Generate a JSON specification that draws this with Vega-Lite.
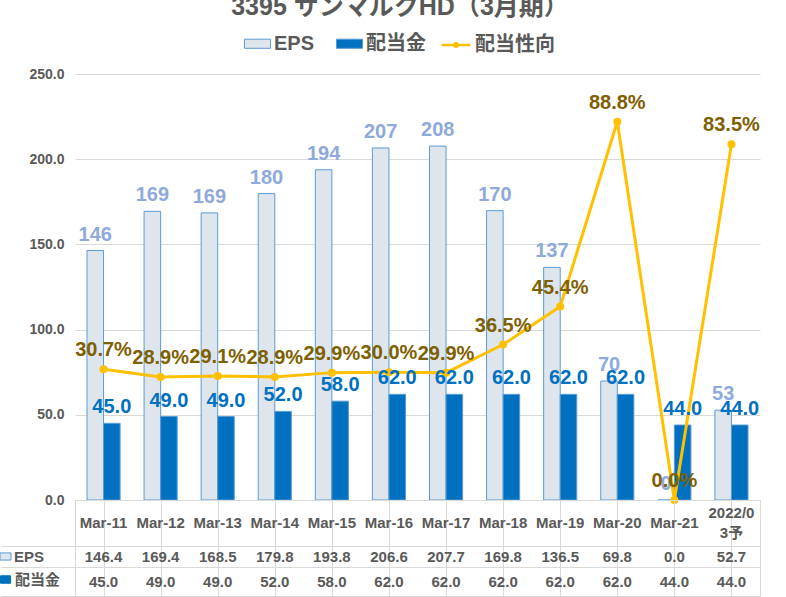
{
  "$schema": "https://vega.github.io/schema/vega-lite/v6.json",
  "padding": {"left": -3, "top": -5, "right": 0, "bottom": 0},
  "title": {
    "text": "3395 サンマルクHD（3月期）",
    "fontSize": 25,
    "fontWeight": "bold",
    "color": "#595959",
    "anchor": "middle",
    "dx": 21,
    "offset": 9
  },
  "datasets": {
    "bars": [
      {"cat": "Mar-11", "series": "EPS", "value": 146.4},
      {"cat": "Mar-11", "series": "配当金", "value": 45.0},
      {"cat": "Mar-12", "series": "EPS", "value": 169.4},
      {"cat": "Mar-12", "series": "配当金", "value": 49.0},
      {"cat": "Mar-13", "series": "EPS", "value": 168.5},
      {"cat": "Mar-13", "series": "配当金", "value": 49.0},
      {"cat": "Mar-14", "series": "EPS", "value": 179.8},
      {"cat": "Mar-14", "series": "配当金", "value": 52.0},
      {"cat": "Mar-15", "series": "EPS", "value": 193.8},
      {"cat": "Mar-15", "series": "配当金", "value": 58.0},
      {"cat": "Mar-16", "series": "EPS", "value": 206.6},
      {"cat": "Mar-16", "series": "配当金", "value": 62.0},
      {"cat": "Mar-17", "series": "EPS", "value": 207.7},
      {"cat": "Mar-17", "series": "配当金", "value": 62.0},
      {"cat": "Mar-18", "series": "EPS", "value": 169.8},
      {"cat": "Mar-18", "series": "配当金", "value": 62.0},
      {"cat": "Mar-19", "series": "EPS", "value": 136.5},
      {"cat": "Mar-19", "series": "配当金", "value": 62.0},
      {"cat": "Mar-20", "series": "EPS", "value": 69.8},
      {"cat": "Mar-20", "series": "配当金", "value": 62.0},
      {"cat": "Mar-21", "series": "EPS", "value": 0.0},
      {"cat": "Mar-21", "series": "配当金", "value": 44.0},
      {"cat": "2022/03予", "series": "EPS", "value": 52.7},
      {"cat": "2022/03予", "series": "配当金", "value": 44.0}
    ],
    "ratio": [
      {"cat": "Mar-11", "ratio": 0.307},
      {"cat": "Mar-12", "ratio": 0.289},
      {"cat": "Mar-13", "ratio": 0.291},
      {"cat": "Mar-14", "ratio": 0.289},
      {"cat": "Mar-15", "ratio": 0.299},
      {"cat": "Mar-16", "ratio": 0.300},
      {"cat": "Mar-17", "ratio": 0.299},
      {"cat": "Mar-18", "ratio": 0.365},
      {"cat": "Mar-19", "ratio": 0.454},
      {"cat": "Mar-20", "ratio": 0.888},
      {"cat": "Mar-21", "ratio": 0.0},
      {"cat": "2022/03予", "ratio": 0.835}
    ]
  },
  "spacing": 0,
  "bounds": "flush",
  "resolve": {
    "scale": {"x": "independent", "y": "independent", "fill": "independent"},
    "legend": {"fill": "independent"}
  },
  "vconcat": [
    {
      "width": 685,
      "height": 426,
      "resolve": {"scale": {"y": "independent"}},
      "layer": [
        {
          "data": {"name": "bars"},
          "mark": {"type": "bar", "stroke": "#5b9bd5", "strokeWidth": 1},
          "encoding": {
            "x": {
              "field": "cat", "type": "nominal",
              "scale": {"domain": ["Mar-11","Mar-12","Mar-13","Mar-14","Mar-15","Mar-16","Mar-17","Mar-18","Mar-19","Mar-20","Mar-21","2022/03予"], "paddingInner": 0.42, "paddingOuter": 0.21},
              "axis": null
            },
            "xOffset": {"field": "series", "type": "nominal", "scale": {"domain": ["EPS", "配当金"]}},
            "y": {
              "field": "value", "type": "quantitative",
              "scale": {"domain": [0, 250], "nice": false},
              "axis": {
                "values": [0, 50, 100, 150, 200, 250], "format": ".1f", "title": null,
                "domain": false, "ticks": false, "labelPadding": 11,
                "gridColor": "#d9d9d9", "labelFontSize": 14, "labelFontWeight": "bold", "labelColor": "#595959"
              }
            },
            "fill": {
              "field": "series", "type": "nominal",
              "scale": {"domain": ["EPS", "配当金"], "range": ["#dfe5ec", "#0070c0"]},
              "legend": {
                "orient": "none", "direction": "horizontal", "legendX": 169, "legendY": -44,
                "title": null, "symbolType": "M-1,-0.35H1V0.35H-1Z", "symbolSize": 676,
                "symbolStrokeColor": "#5b9bd5", "symbolStrokeWidth": 1,
                "labelFontSize": 20, "labelFontWeight": "bold", "labelColor": "#595959",
                "labelOffset": 3, "columnPadding": 19
              }
            }
          }
        },
        {
          "data": {"name": "ratio"},
          "mark": {"type": "line", "strokeWidth": 3, "point": {"filled": true, "fill": "#ffc000", "size": 36, "opacity": 1}},
          "encoding": {
            "x": {"field": "cat", "type": "nominal"},
            "y": {"field": "ratio", "type": "quantitative", "scale": {"domain": [0, 1], "nice": false}, "axis": null},
            "stroke": {
              "datum": "配当性向", "type": "nominal",
              "scale": {"range": ["#ffc000"]},
              "legend": {
                "orient": "none", "legendX": 365, "legendY": -45, "title": null,
                "symbolType": "M-1,0H1M-0.12,0A0.12,0.12,0,1,0,0.12,0A0.12,0.12,0,1,0,-0.12,0",
                "symbolSize": 841, "symbolStrokeWidth": 2.5,
                "labelFontSize": 20, "labelFontWeight": "bold", "labelColor": "#595959", "labelOffset": 3
              }
            }
          }
        },
        {
          "data": {"name": "bars"},
          "transform": [{"filter": "datum.series == 'EPS'"}],
          "mark": {"type": "text", "baseline": "alphabetic", "dy": -10, "fontSize": 20, "fontWeight": "bold", "color": "#8eaadb"},
          "encoding": {
            "x": {"field": "cat", "type": "nominal"},
            "xOffset": {"field": "series", "type": "nominal"},
            "y": {"field": "value", "type": "quantitative", "scale": {"domain": [0, 250], "nice": false}, "axis": null},
            "text": {"field": "value", "format": ".0f"}
          }
        },
        {
          "data": {"name": "bars"},
          "transform": [{"filter": "datum.series == '配当金'"}],
          "mark": {"type": "text", "baseline": "alphabetic", "dy": -10, "fontSize": 20, "fontWeight": "bold", "color": "#0070c0"},
          "encoding": {
            "x": {"field": "cat", "type": "nominal"},
            "xOffset": {"field": "series", "type": "nominal"},
            "y": {"field": "value", "type": "quantitative", "scale": {"domain": [0, 250], "nice": false}, "axis": null},
            "text": {"field": "value", "format": ".1f"}
          }
        },
        {
          "data": {"name": "ratio"},
          "mark": {"type": "text", "baseline": "alphabetic", "dy": -13, "fontSize": 20, "fontWeight": "bold", "color": "#7f6000"},
          "encoding": {
            "x": {"field": "cat", "type": "nominal"},
            "y": {"field": "ratio", "type": "quantitative", "scale": {"domain": [0, 1], "nice": false}, "axis": null},
            "text": {"field": "ratio", "format": ".1%"}
          }
        }
      ]
    },
    {
      "width": 685,
      "height": 46,
      "view": {"stroke": "#d9d9d9"},
      "data": {"name": "ratio"},
      "encoding": {
        "x": {
          "field": "cat", "type": "nominal",
          "scale": {"domain": ["Mar-11","Mar-12","Mar-13","Mar-14","Mar-15","Mar-16","Mar-17","Mar-18","Mar-19","Mar-20","Mar-21","2022/03予"], "paddingInner": 0, "paddingOuter": 0},
          "axis": {"grid": true, "bandPosition": 0, "labels": false, "ticks": false, "domain": false, "title": null, "gridColor": "#d9d9d9"}
        }
      },
      "layer": [
        {
          "transform": [{"filter": "datum.cat != '2022/03予'"}],
          "mark": {"type": "text", "fontSize": 15, "fontWeight": "bold", "color": "#595959"},
          "encoding": {"text": {"field": "cat"}}
        },
        {
          "transform": [{"filter": "datum.cat == '2022/03予'"}],
          "mark": {"type": "text", "fontSize": 15, "fontWeight": "bold", "color": "#595959", "lineHeight": 20, "dy": -10},
          "encoding": {"text": {"value": ["2022/0", "3予"]}}
        }
      ]
    },
    {
      "width": 685,
      "height": 21,
      "view": {"stroke": "#d9d9d9"},
      "data": {"name": "bars"},
      "transform": [{"filter": "datum.series == 'EPS'"}],
      "encoding": {
        "x": {
          "field": "cat", "type": "nominal",
          "scale": {"domain": ["Mar-11","Mar-12","Mar-13","Mar-14","Mar-15","Mar-16","Mar-17","Mar-18","Mar-19","Mar-20","Mar-21","2022/03予"], "paddingInner": 0, "paddingOuter": 0},
          "axis": {"grid": true, "bandPosition": 0, "labels": false, "ticks": false, "domain": false, "title": null, "gridColor": "#d9d9d9"}
        },
        "y": {
          "field": "series", "type": "nominal",
          "scale": {"type": "band", "paddingInner": 0, "paddingOuter": 0},
          "axis": {"labels": false, "domain": false, "grid": false, "ticks": true, "tickSize": 74, "tickColor": "#d9d9d9", "tickBand": "extent", "title": null}
        }
      },
      "layer": [
        {
          "mark": {"type": "square", "size": 0, "filled": true, "opacity": 1},
          "encoding": {
            "fill": {
              "field": "series", "type": "nominal",
              "scale": {"range": ["#dfe5ec"]},
              "legend": {
                "orient": "none", "legendX": -77, "legendY": 3, "title": null,
                "symbolType": "M-1,-0.65H1V0.65H-1Z", "symbolSize": 121, "symbolStrokeColor": "#5b9bd5", "symbolStrokeWidth": 1,
                "labelFontSize": 15, "labelFontWeight": "bold", "labelColor": "#595959", "labelOffset": 1
              }
            }
          }
        },
        {
          "mark": {"type": "text", "fontSize": 15, "fontWeight": "bold", "color": "#595959"},
          "encoding": {"text": {"field": "value", "format": ".1f"}}
        }
      ]
    },
    {
      "width": 685,
      "height": 29,
      "view": {"stroke": "#d9d9d9"},
      "data": {"name": "bars"},
      "transform": [{"filter": "datum.series == '配当金'"}],
      "encoding": {
        "x": {
          "field": "cat", "type": "nominal",
          "scale": {"domain": ["Mar-11","Mar-12","Mar-13","Mar-14","Mar-15","Mar-16","Mar-17","Mar-18","Mar-19","Mar-20","Mar-21","2022/03予"], "paddingInner": 0, "paddingOuter": 0},
          "axis": {"grid": true, "bandPosition": 0, "labels": false, "ticks": false, "domain": false, "title": null, "gridColor": "#d9d9d9"}
        },
        "y": {
          "field": "series", "type": "nominal",
          "scale": {"type": "band", "paddingInner": 0, "paddingOuter": 0},
          "axis": {"labels": false, "domain": false, "grid": false, "ticks": true, "tickSize": 74, "tickColor": "#d9d9d9", "tickBand": "extent", "title": null}
        }
      },
      "layer": [
        {
          "mark": {"type": "square", "size": 0, "filled": true, "opacity": 1},
          "encoding": {
            "fill": {
              "field": "series", "type": "nominal",
              "scale": {"range": ["#0070c0"]},
              "legend": {
                "orient": "none", "legendX": -77, "legendY": 5, "title": null,
                "symbolType": "M-1,-0.75H1V0.75H-1Z", "symbolSize": 100, "symbolStrokeColor": "#0070c0", "symbolStrokeWidth": 1,
                "labelFontSize": 15, "labelFontWeight": "bold", "labelColor": "#595959", "labelOffset": 2
              }
            }
          }
        },
        {
          "mark": {"type": "text", "fontSize": 15, "fontWeight": "bold", "color": "#595959"},
          "encoding": {"text": {"field": "value", "format": ".1f"}}
        }
      ]
    }
  ],
  "config": {
    "font": "Liberation Sans, Noto Sans CJK JP",
    "view": {"stroke": null},
    "legend": {"padding": 0}
  }
}
